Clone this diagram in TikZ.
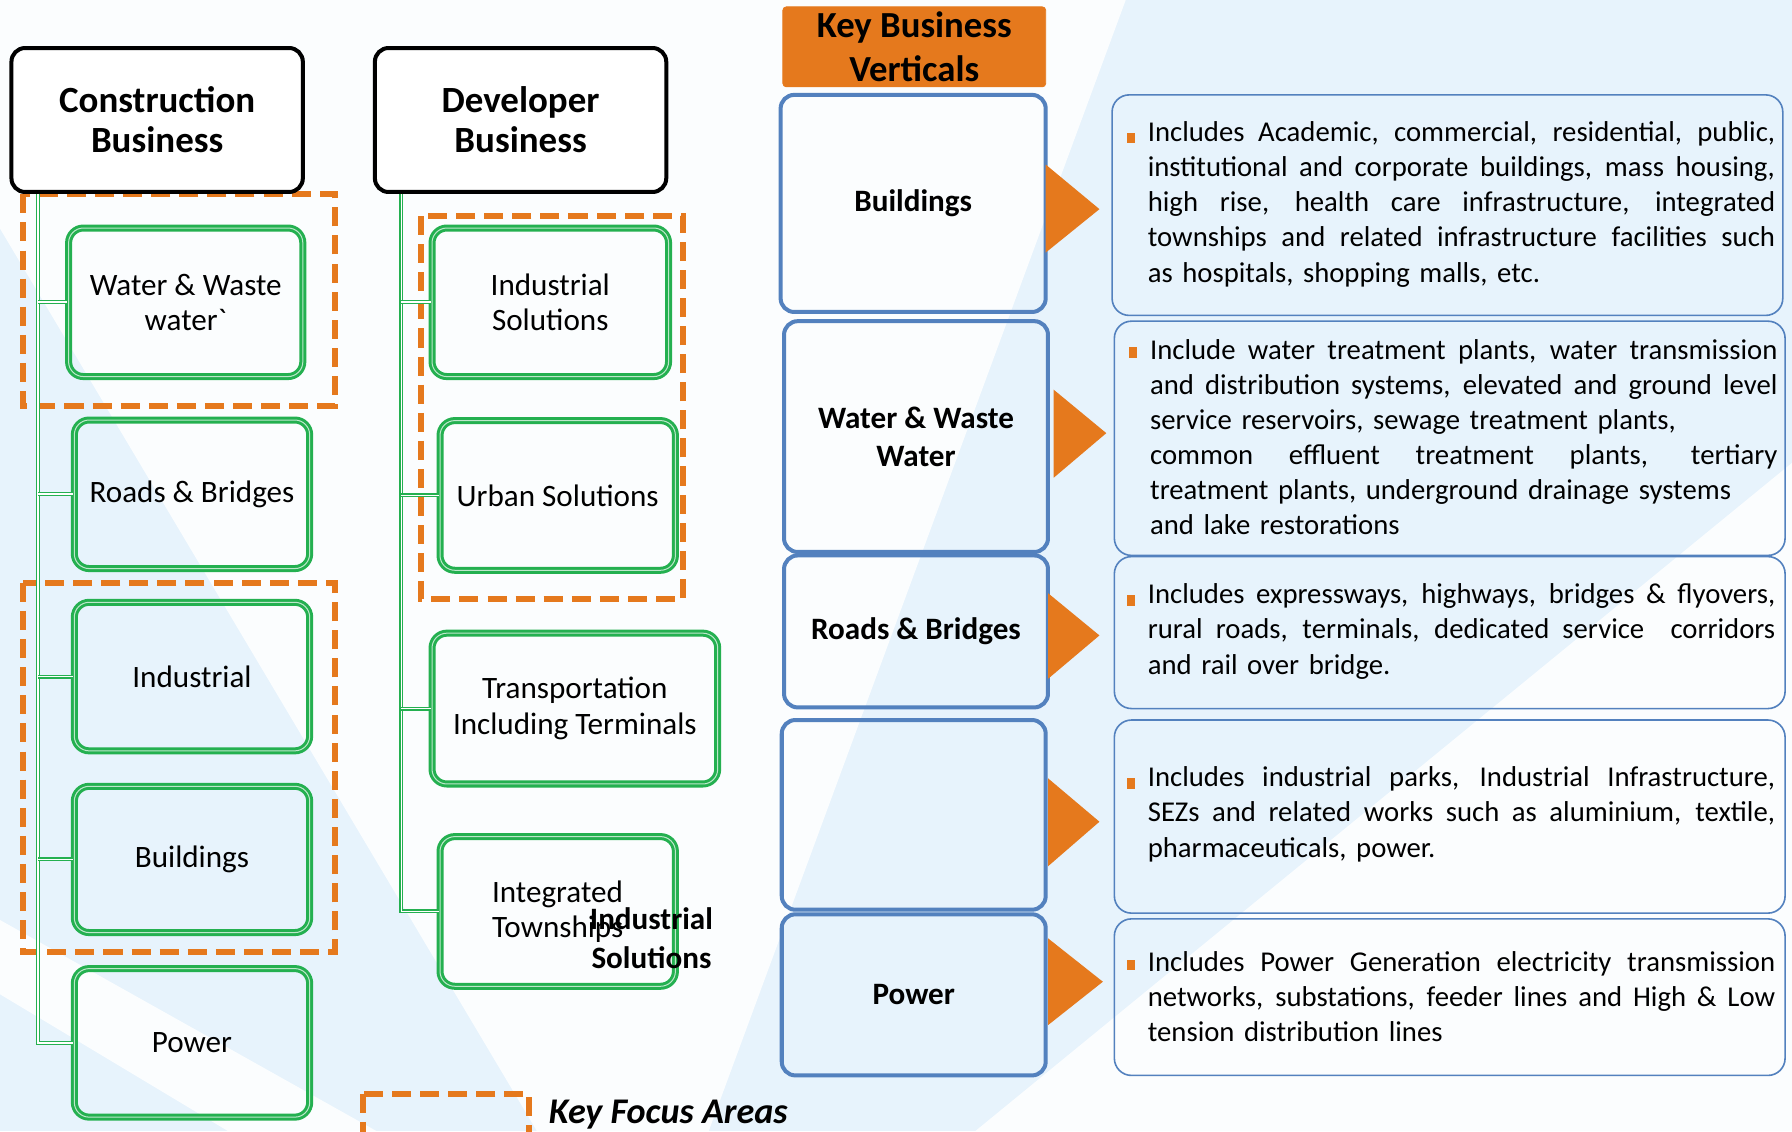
\documentclass[tikz,border=0pt]{standalone}
\usepackage{fontspec}
\setmainfont{Carlito}
\definecolor{kbgreen}{RGB}{36,176,80}
\definecolor{kborange}{RGB}{229,121,29}
\definecolor{kbblue}{RGB}{83,129,190}
\definecolor{kbsky}{RGB}{231,243,252}
\newcommand{\kbfull}[1]{\leavevmode\hbox to 10.98cm{\spaceskip=0.226em plus 1em minus 0.03em\relax #1}}
\begin{document}
\begin{tikzpicture}[
				x=0.02cm, y=-0.02cm,
				every node/.style={align=center, inner sep=0pt},
				hdbox/.style={draw=black, line width=2pt, fill=white, rounded corners=0.24cm, minimum width=5.1cm, minimum height=2.52cm, font=\bfseries\fontsize{18.4}{20}\selectfont},
				subbox/.style={draw=kbgreen, line width=1.5pt, double=kbgreen!30!white, double distance=0.5pt, rounded corners=0.26cm, minimum width=4.12cm, minimum height=2.6cm, font=\fontsize{15.5}{17.6}\selectfont},
				spine/.style={draw=kbgreen, line width=0.6pt, double=white, double distance=0.8pt},
				focus/.style={draw=kborange, line width=3pt, dash pattern=on 9.5pt off 4.5pt},
				vbox/.style={draw=kbblue, line width=2pt, rounded corners=0.24cm, minimum width=4.62cm, font=\bfseries\fontsize{15.5}{18.8}\selectfont},
				descbox/.style={draw=kbblue, line width=0.8pt, rounded corners=0.3cm, minimum width=11.74cm},
				desc/.style={anchor=west, text width=10.98cm, align=left, font=\fontsize{14.3}{17.5}\selectfont},
				fan/.style={fill=kborange}
				]
				
				\useasboundingbox (0,0) rectangle (1568,990);
				\fill[kbsky] (0,0) rectangle (1568,990);
				\fill[white, opacity=0.85] (0,0) -- (985,0) -- (620,990) -- (470,990) -- (0,200) -- cycle;
				\fill[white, opacity=0.85] (0,805) -- (330,990) -- (200,990) -- (0,870) -- cycle;
				\fill[white, opacity=0.85] (1568,405) -- (1568,990) -- (853,990) -- cycle;
				
				\draw[focus] (20,170) rectangle (293,355);
				\draw[focus] (20,510) rectangle (293,833);
				\draw[focus] (368,189) rectangle (598,524);
				\draw[focus] (318,957) rectangle (463,1005);
				\node[anchor=west, font=\bfseries\itshape\fontsize{18}{20}\selectfont] (kfa) at (480,975.5) {Key Focus Areas};
				
				\node[hdbox] (cons) at (137.5,105) {Construction\\Business};
				\node[hdbox] (dev) at (455.5,105) {Developer\\Business};
				
				\node[subbox, minimum width=4.1cm] (cww) at (162.5,264.5) {Water \& Waste\\water\textasciigrave};
				\node[subbox] (crb) at (168,432.5) {Roads \& Bridges};
				\node[subbox] (cind) at (168,592) {Industrial};
				\node[subbox, minimum height=2.56cm] (cbld) at (168,752) {Buildings};
				\node[subbox] (cpow) at (168,912.5) {Power};
				
				\node[subbox, minimum width=4.14cm] (devind) at (481.5,264.5) {Industrial\\Solutions};
				\node[subbox, minimum height=2.62cm] (devurb) at (488,433.5) {Urban Solutions};
				\node[subbox, minimum width=5cm, minimum height=2.64cm] (devtrn) at (503,620) {Transportation\\Including Terminals};
				\node[subbox, minimum height=2.62cm, align=left] (devint) at (488,797.5) {Integrated\\Townships};
				\node[font=\bfseries\fontsize{15.5}{19.3}\selectfont] (indsol) at (570,821) {Industrial\\Solutions};
				
				\coordinate (cspine) at ([xshift=5mm]cons.south west);
				\coordinate (dspine) at ([xshift=5mm]dev.south west);
				\draw[spine] (cspine) |- (cpow.west);
				\draw[spine] (cspine |- cww.west) -- (cww.west);
				\draw[spine] (cspine |- crb.west) -- (crb.west);
				\draw[spine] (cspine |- cind.west) -- (cind.west);
				\draw[spine] (cspine |- cbld.west) -- (cbld.west);
				\draw[spine] (dspine) |- (devint.west);
				\draw[spine] (dspine |- devind.west) -- (devind.west);
				\draw[spine] (dspine |- devurb.west) -- (devurb.west);
				\draw[spine] (dspine |- devtrn.west) -- (devtrn.west);
				
				\node[fill=kborange, draw=kborange, rounded corners=0.06cm, minimum width=4.6cm, minimum height=1.4cm, font=\bfseries\fontsize{18.3}{21.6}\selectfont] (kbv) at (800,41) {Key Business\\Verticals};
				\node[vbox, minimum width=4.64cm, minimum height=3.8cm] (vbld) at (799,178) {Buildings};
				\node[vbox, minimum height=4.04cm] (vww) at (801.5,382) {Water \& Waste\\Water};
				\node[vbox, minimum height=2.66cm] (vrb) at (801.5,552.5) {Roads \& Bridges};
				\node[vbox, minimum height=3.32cm] (vind) at (799.5,713) {};
				\node[vbox, minimum height=2.82cm] (vpow) at (799.5,870.5) {Power};
				
				\fill[fan] (915,144) -- (962,183) -- (915,221) -- cycle;
				\fill[fan] (922,341) -- (968,379) -- (922,418) -- cycle;
				\fill[fan] (917,519) -- (962,556) -- (917,594) -- cycle;
				\fill[fan] (917,681) -- (962,719) -- (917,758) -- cycle;
				\fill[fan] (917,821) -- (965,859) -- (917,897) -- cycle;
				
				\node[descbox, minimum height=3.86cm] (dscbld) at (1266.5,179.5) {};
				\node[descbox, minimum height=4.1cm] (dscww) at (1268.5,383.5) {};
				\node[descbox, minimum height=2.66cm] (dscrb) at (1268.5,553.5) {};
				\node[descbox, minimum height=3.38cm] (dscind) at (1268.5,714.5) {};
				\node[descbox, minimum height=2.74cm] (dscpow) at (1268.5,872.5) {};
				
				\fill[kborange] (986,116) rectangle (993,125);
				\fill[kborange] (988,304) rectangle (995,313);
				\fill[kborange] (986,521) rectangle (993,530);
				\fill[kborange] (986,681) rectangle (993,690);
				\fill[kborange] (986,840) rectangle (993,849);
				
				\node[desc] (tbld) at (1004,178.7) {\kbfull{Includes Academic, commercial, residential, public,}\\ \kbfull{institutional and corporate buildings, mass housing,}\\ \kbfull{high rise, health care infrastructure, integrated}\\ \kbfull{townships and related infrastructure facilities such}\\ as hospitals, shopping malls, etc.};
				\node[desc] (tww) at (1006,382.6) {\kbfull{Include water treatment plants, water transmission}\\ \kbfull{and distribution systems, elevated and ground level}\\ service reservoirs, sewage treatment plants,\\ \kbfull{common effluent treatment plants, tertiary}\\ treatment plants, underground drainage systems\\ and lake restorations};
				\node[desc] (trb) at (1004,552.5) {\kbfull{Includes expressways, highways, bridges \& flyovers,}\\ \kbfull{rural roads, terminals, dedicated service\ \ corridors}\\ and rail over bridge.};
				\node[desc] (tind) at (1004,712.5) {\kbfull{Includes industrial parks, Industrial Infrastructure,}\\ \kbfull{SEZs and related works such as aluminium, textile,}\\ pharmaceuticals, power.};
				\node[desc] (tpow) at (1004,872.3) {\kbfull{Includes Power Generation electricity transmission}\\ \kbfull{networks, substations, feeder lines and High \& Low}\\ tension distribution lines};
				
			\end{tikzpicture}
\end{document}
